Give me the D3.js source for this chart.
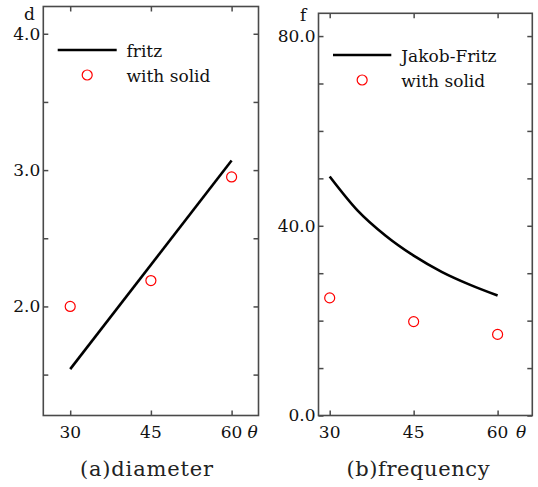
<!DOCTYPE html>
<html>
<head>
<meta charset="utf-8">
<script src="https://cdn.jsdelivr.net/npm/d3@7"></script>
<style>
  html, body { margin: 0; padding: 0; background: #fff; }
  svg { display: block; }
  text { font-family: "DejaVu Serif", serif; }
  text.theta { font-family: "DejaVu Serif", serif; font-style: italic; }
</style>
</head>
<body>
<svg id="chart" width="538" height="487"></svg>
<script>
// ---- Data ----
const thetaTicks = [30, 45, 60];

// (a) diameter
const fritzTheta = [30, 60];
const fritzD = [1.54, 3.07];
const solidThetaA = [30, 45, 60];
const solidD = [2.0, 2.19, 2.95];
const dMajorTicks = [2.0, 3.0, 4.0];
const dMinorTicks = [1.5, 2.5, 3.5];
const dTickLabels = ["2.0", "3.0", "4.0"];

// (b) frequency
const jfTheta = [30, 35, 40, 45, 50, 55, 60];
const jfF = [50.4, 43.2, 37.9, 33.7, 30.3, 27.6, 25.3];
const solidThetaB = [30, 45, 60];
const solidF = [24.8, 19.8, 17.1];
const fMajorTicks = [0, 40, 80];
const fMinorTicks = [10, 20, 30, 50, 60, 70];
const fTickLabels = ["0.0", "40.0", "80.0"];

const svg = d3.select("#chart");
const axisColor = "#4a4a4a";
const fs = 17;

function panel(cfg) {
  const g = svg.append("g");
  const x = d3.scaleLinear().domain(cfg.xDomain).range([cfg.left, cfg.right]);
  const y = d3.scaleLinear().domain(cfg.yDomain).range([cfg.bottom, cfg.top]);
  const tl = 5;

  // ticks (all inward)
  const allY = cfg.yMajor.concat(cfg.yMinor);
  const bottomAxis = d3.axisBottom(x).tickValues(thetaTicks).tickSize(-tl).tickFormat("");
  const topAxis = d3.axisTop(x).tickValues(thetaTicks).tickSize(-tl).tickFormat("");
  const leftAxis = d3.axisLeft(y).tickValues(allY).tickSize(-tl).tickFormat("");
  const rightAxis = d3.axisRight(y).tickValues(allY).tickSize(-tl).tickFormat("");
  [[bottomAxis, `translate(0,${cfg.bottom})`], [topAxis, `translate(0,${cfg.top})`],
   [leftAxis, `translate(${cfg.left},0)`], [rightAxis, `translate(${cfg.right},0)`]]
    .forEach(([ax, tr]) => {
      const a = g.append("g").attr("transform", tr).call(ax);
      a.select(".domain").remove();
      a.selectAll("line").attr("stroke", axisColor).attr("stroke-width", 1.5);
    });

  // frame
  g.append("rect")
    .attr("x", cfg.left).attr("y", cfg.top)
    .attr("width", cfg.right - cfg.left).attr("height", cfg.bottom - cfg.top)
    .attr("fill", "none").attr("stroke", axisColor).attr("stroke-width", 1.6);

  // y tick labels
  g.selectAll(".ylab").data(cfg.yMajor).enter().append("text")
    .attr("x", cfg.left - 3).attr("y", d => y(d)).attr("dy", "0.35em")
    .attr("text-anchor", "end").attr("font-size", fs)
    .attr("fill", "#111")
    .text((d, i) => cfg.yLabels[i]);

  // x tick labels
  g.selectAll(".xlab").data(thetaTicks).enter().append("text")
    .attr("x", d => x(d)).attr("y", cfg.bottom + 22)
    .attr("text-anchor", "middle").attr("font-size", fs)
    .attr("fill", "#111")
    .text(d => d);

  // axis names
  g.append("text").attr("x", cfg.yNameX).attr("y", cfg.yNameY)
    .attr("font-size", fs).attr("fill", "#111").text(cfg.yName);
  g.append("text").attr("class", "theta").attr("x", cfg.thetaX).attr("y", cfg.bottom + 22)
    .attr("font-size", 17).attr("fill", "#111").text("θ");

  // line series
  const line = d3.line().x(d => x(d[0])).y(d => y(d[1])).curve(d3.curveMonotoneX);
  g.append("path").datum(d3.zip(cfg.lineX, cfg.lineY))
    .attr("d", line).attr("fill", "none").attr("stroke", "#000").attr("stroke-width", 2.6);

  // circles
  g.selectAll(".pt").data(d3.zip(cfg.ptX, cfg.ptY)).enter().append("circle")
    .attr("cx", d => x(d[0])).attr("cy", d => y(d[1])).attr("r", 5)
    .attr("fill", "none").attr("stroke", "#ff0000").attr("stroke-width", 1.2);

  // legend
  const L = cfg.legend;
  g.append("line").attr("x1", L.x1).attr("x2", L.x2).attr("y1", L.y1).attr("y2", L.y1)
    .attr("stroke", "#000").attr("stroke-width", 2.6);
  g.append("text").attr("x", L.tx).attr("y", L.y1 + 7)
    .attr("font-size", fs).attr("fill", "#111").text(L.lineName);
  g.append("circle").attr("cx", (L.x1 + L.x2) / 2).attr("cy", L.y2).attr("r", 5)
    .attr("fill", "none").attr("stroke", "#ff0000").attr("stroke-width", 1.2);
  g.append("text").attr("x", L.tx).attr("y", L.y2 + 7)
    .attr("font-size", fs).attr("fill", "#111").text("with solid");

  // caption
  g.append("text").attr("x", cfg.capX).attr("y", 476)
    .attr("text-anchor", "middle").attr("font-size", 21)
    .attr("textLength", cfg.capW).attr("lengthAdjust", "spacing")
    .attr("fill", "#222").text(cfg.caption);
}

panel({
  left: 43.3, right: 258.5, top: 6.5, bottom: 415.5,
  xDomain: [25, 65], yDomain: [1.2, 4.2],
  yMajor: dMajorTicks, yMinor: dMinorTicks, yLabels: dTickLabels,
  yName: "d", yNameX: 24, yNameY: 20, thetaX: 247.5,
  lineX: fritzTheta, lineY: fritzD, ptX: solidThetaA, ptY: solidD,
  legend: { x1: 57.7, x2: 116.7, y1: 50, y2: 75, tx: 126.5, lineName: "fritz" },
  caption: "(a)diameter", capX: 146.5, capW: 133
});

panel({
  left: 318.5, right: 532.3, top: 13.3, bottom: 415.5,
  xDomain: [28, 66.2], yDomain: [0, 84.8],
  yMajor: fMajorTicks, yMinor: fMinorTicks, yLabels: fTickLabels,
  yName: "f", yNameX: 300, yNameY: 21, thetaX: 516,
  lineX: jfTheta, lineY: jfF, ptX: solidThetaB, ptY: solidF,
  legend: { x1: 333, x2: 391.3, y1: 55, y2: 80, tx: 401.3, lineName: "Jakob-Fritz" },
  caption: "(b)frequency", capX: 418, capW: 143
});
</script>
</body>
</html>
